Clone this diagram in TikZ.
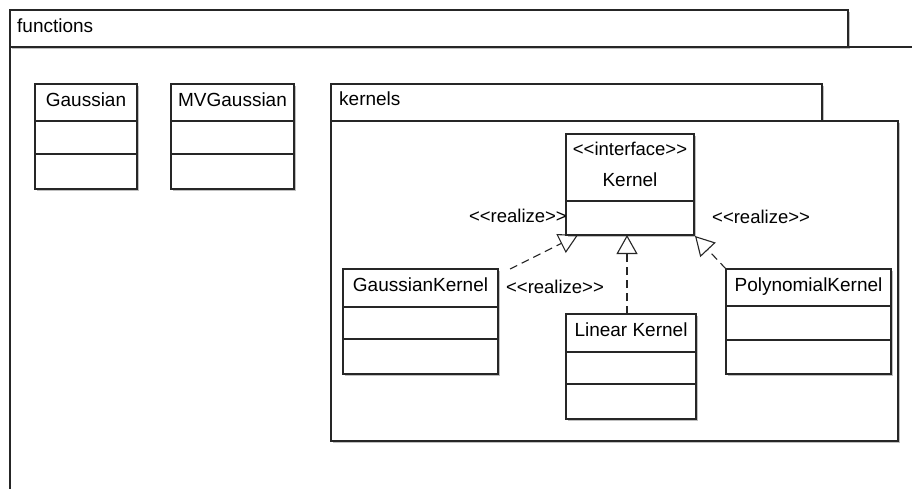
\documentclass[tikz,border=0pt]{standalone}
\usepackage{fontspec}
\setmainfont{Liberation Sans}[Ligatures=TeXOff]
\usetikzlibrary{arrows.meta,shadows,fit}
\begin{document}
\begin{tikzpicture}[x=1pt,y=-1pt,
  box/.style={draw=black!85, line width=1.2pt, fill=white, inner sep=0pt,
    drop shadow={shadow xshift=1.6pt, shadow yshift=-1.6pt, fill=black!25, opacity=1}},
  outline/.style={draw=black!85, line width=1.2pt},
  div/.style={draw=black!85, line width=1.2pt},
  cname/.style={font=\fontsize{19}{22}\selectfont, anchor=base, inner sep=0pt},
  stereo/.style={font=\fontsize{18.5}{22}\selectfont, anchor=base, inner sep=0pt},
  realize/.style={draw=black!85, line width=1.1pt, dash pattern=on 8pt off 5pt,
    -{Triangle[open, length=19pt, width=21pt]}}]
\clip (0,0) rectangle (912,488);
\fill[white] (0,0) rectangle (912,488);

% package functions
\node[box, fit={(10,10) (848,47)}] (ftab) {};
\draw[outline] (10,47) rectangle (940,520);
\node[cname, anchor=base west] (flbl) at (17,32) {functions};

% Gaussian
\node[box, fit={(35,84) (137,189)}] (g) {};
\draw[div] (35,121) -- (137,121);
\draw[div] (35,154) -- (137,154);
\node[cname] (gl) at (86,106) {Gaussian};

% MVGaussian
\node[box, fit={(171,84) (294,189)}] (mvg) {};
\draw[div] (171,121) -- (294,121);
\draw[div] (171,154) -- (294,154);
\node[cname] (mvgl) at (232.5,106) {MVGaussian};

% package kernels
\node[box, fit={(331,84) (822,121)}] (ktab) {};
\node[box, fit={(331,121) (898,441)}] (kbody) {};
\node[cname, anchor=base west] (klbl) at (339,105) {kernels};

% Kernel interface
\node[box, fit={(566,134) (694,235)}] (k) {};
\draw[div] (566,201) -- (694,201);
\node[stereo] (kst) at (630,155) {<<interface>>};
\node[cname] (kl) at (630,186) {Kernel};

% GaussianKernel
\node[box, fit={(343,269) (498,374)}] (gk) {};
\draw[div] (343,307) -- (498,307);
\draw[div] (343,339) -- (498,339);
\node[cname] (gkl) at (420.5,291) {GaussianKernel};

% Linear Kernel
\node[box, fit={(566,314) (696,419)}] (lk) {};
\draw[div] (566,352) -- (696,352);
\draw[div] (566,384) -- (696,384);
\node[cname] (lkl) at (631,336) {Linear Kernel};

% PolynomialKernel
\node[box, fit={(726,269) (891,374)}] (pk) {};
\draw[div] (726,306) -- (891,306);
\draw[div] (726,340) -- (891,340);
\node[cname] (pkl) at (808.5,291) {PolynomialKernel};

% connectors
\coordinate (s1) at (510,269);
\coordinate (t1) at (578,235);
\coordinate (s2) at (627,314);
\coordinate (t2) at (627,235);
\coordinate (s3) at (726,269);
\coordinate (t3) at (695,236);
\draw[realize] (s1) -- (t1);
\draw[realize] (s2) -- (t2);
\draw[realize] (s3) -- (t3);

\node[stereo, anchor=base east] (r1) at (567,222) {<<realize>>};
\node[stereo] (r2) at (555,293) {<<realize>>};
\node[stereo, anchor=base west] (r3) at (712,223) {<<realize>>};
\end{tikzpicture}
\end{document}
